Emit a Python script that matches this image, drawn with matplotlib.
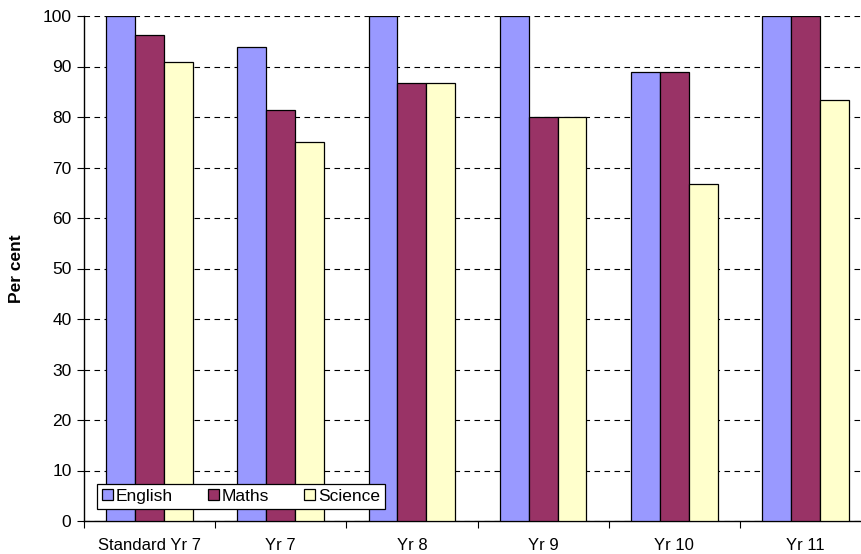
import matplotlib.pyplot as plt
import numpy as np

plt.rcParams['font.family'] = ['Liberation Sans', 'DejaVu Sans']

years = ['Standard Yr 7', 'Yr 7', 'Yr 8', 'Yr 9', 'Yr 10', 'Yr 11']
english = [100, 93.8, 100, 100, 88.9, 100]
maths = [96.3, 81.3, 86.7, 80, 88.9, 100]
science = [90.9, 75, 86.7, 80, 66.7, 83.3]

fig = plt.figure(figsize=(8.61, 5.54), dpi=100)
# axes runs off the right edge a bit, last group is clipped
ax = fig.add_axes([84/861, 1-521/554, 787/861, 505/554])

x = np.arange(len(years))
w = 0.22
kw = dict(edgecolor='black', linewidth=0.9, zorder=3)
ax.bar(x - w, english, w, color='#9999FF', label='English', **kw)
ax.bar(x, maths, w, color='#993366', label='Maths', **kw)
ax.bar(x + w, science, w, color='#FFFFCC', label='Science', **kw)

ax.set_xlim(-0.5, len(years) - 0.5)
ax.set_ylim(0, 100)
ax.set_yticks(np.arange(0, 101, 10))
ax.yaxis.grid(True, linestyle=(0, (5, 4)), color='black', linewidth=0.8)
ax.set_axisbelow(True)

# ticks between the groups, labels under the groups
ax.set_xticks(np.arange(-0.5, len(years), 1))
ax.set_xticklabels([])
ax.set_xticks(x, minor=True)
ax.set_xticklabels(years, minor=True)
ax.tick_params(axis='x', which='minor', length=0, pad=12, labelsize=12)
ax.tick_params(axis='x', which='major', length=5, direction='out')
ax.tick_params(axis='y', length=5, labelsize=12.5, pad=4)

for s in ['top', 'right']:
    ax.spines[s].set_visible(False)
ax.spines['left'].set_linewidth(1.0)
ax.spines['bottom'].set_linewidth(1.0)

ax.set_ylabel('Per cent', fontweight='bold', fontsize=12.5)
ax.yaxis.set_label_coords(-60/787, 0.5)

leg = ax.legend(loc='lower left', bbox_to_anchor=(13/787, 12/505), ncol=3,
                fontsize=12.5, frameon=True, fancybox=False, edgecolor='black',
                framealpha=1, borderpad=0.3, handlelength=0.65, handleheight=0.65,
                handletextpad=0.15, columnspacing=2.0, borderaxespad=0)
leg.get_frame().set_linewidth(0.9)

fig.savefig('out.png', dpi=100)
